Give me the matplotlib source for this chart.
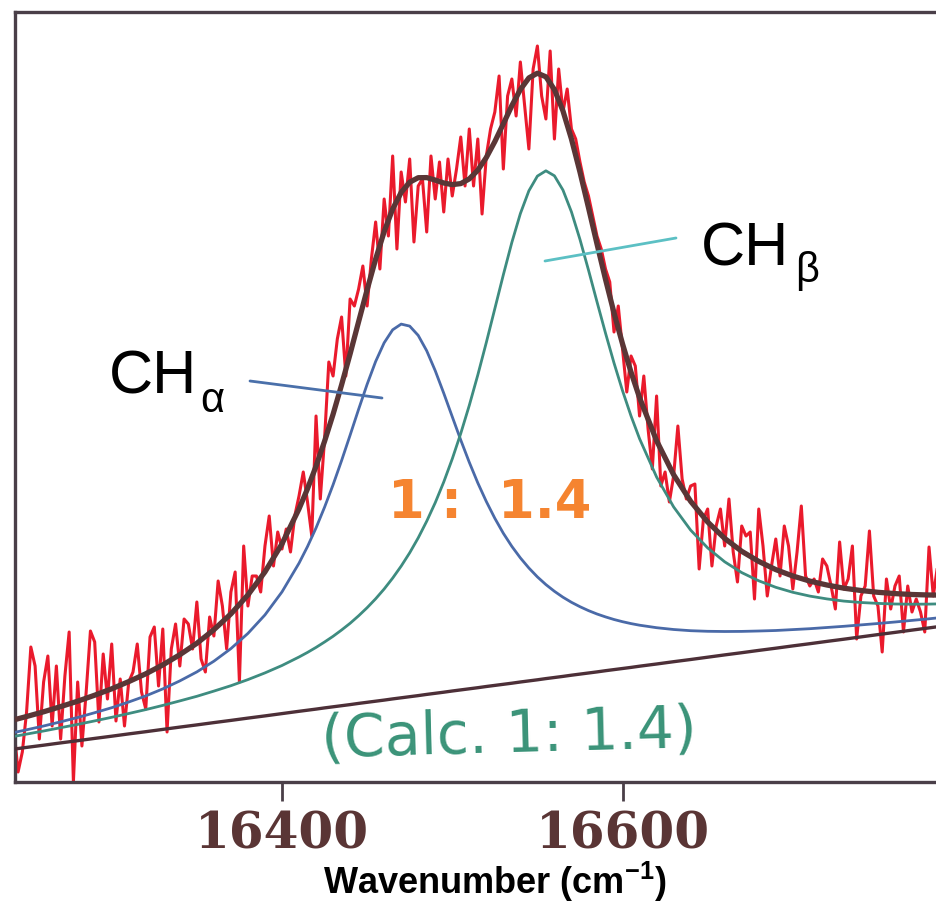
import numpy as np
import matplotlib
matplotlib.use('Agg')
import matplotlib.pyplot as plt

# ---------------- data ----------------
# wavenumber grid of the fit curves (cm-1): finer sampling around the two peaks
fit_x = np.concatenate([np.arange(16240, 16411, 10),
                        np.arange(16415, 16606, 5),
                        np.arange(16610, 16791, 10)])
baseline = [0.323, 0.346, 0.368, 0.391, 0.413, 0.436, 0.458, 0.481, 0.503, 0.526,
            0.549, 0.571, 0.594, 0.616, 0.639, 0.661, 0.684, 0.707,
            0.718, 0.729, 0.741, 0.752, 0.763, 0.774, 0.786, 0.797, 0.808, 0.819,
            0.831, 0.842, 0.853, 0.864, 0.876, 0.887, 0.898, 0.910, 0.921, 0.932,
            0.943, 0.955, 0.966, 0.977, 0.988, 1.000, 1.011, 1.022, 1.034, 1.045,
            1.056, 1.068, 1.079, 1.090, 1.101, 1.113, 1.124, 1.135, 1.146,
            1.158, 1.180, 1.203, 1.225, 1.248, 1.271, 1.293, 1.316, 1.338, 1.361,
            1.383, 1.406, 1.428, 1.451, 1.474, 1.496, 1.519, 1.541, 1.564]
ch_alpha = [0.162, 0.176, 0.192, 0.211, 0.232, 0.257, 0.285, 0.319, 0.358, 0.405,
            0.462, 0.530, 0.614, 0.718, 0.847, 1.010, 1.217, 1.481,
            1.637, 1.812, 2.007, 2.220, 2.451, 2.694, 2.941, 3.180, 3.397, 3.573,
            3.691, 3.737, 3.706, 3.602, 3.436, 3.226, 2.990, 2.743, 2.498, 2.265,
            2.048, 1.850, 1.671, 1.510, 1.368, 1.241, 1.129, 1.029, 0.940, 0.862,
            0.792, 0.729, 0.674, 0.624, 0.579, 0.538, 0.501, 0.468, 0.438,
            0.410, 0.363, 0.322, 0.288, 0.259, 0.234, 0.213, 0.194, 0.177, 0.163,
            0.150, 0.139, 0.129, 0.120, 0.111, 0.104, 0.097, 0.091, 0.086]
ch_beta = [0.125, 0.133, 0.142, 0.152, 0.163, 0.175, 0.189, 0.204, 0.221, 0.240,
           0.262, 0.286, 0.315, 0.347, 0.385, 0.430, 0.481, 0.543,
           0.578, 0.617, 0.659, 0.705, 0.757, 0.813, 0.876, 0.946, 1.024, 1.111,
           1.208, 1.317, 1.439, 1.577, 1.732, 1.906, 2.102, 2.321, 2.565, 2.834,
           3.127, 3.440, 3.767, 4.095, 4.408, 4.684, 4.901, 5.037, 5.078, 5.017,
           4.864, 4.633, 4.347, 4.030, 3.701, 3.376, 3.066, 2.778, 2.514,
           2.275, 1.870, 1.548, 1.294, 1.093, 0.931, 0.801, 0.696, 0.609, 0.536,
           0.476, 0.425, 0.381, 0.344, 0.312, 0.284, 0.259, 0.238, 0.219]

spec_x = np.arange(16240, 16790.1, 2.5)      # measured spectrum grid (cm-1)
spectrum = [0.35, 0.55, 0.10, 0.30, 0.70, 1.35, 1.16, 0.43, 1.00, 1.26,
            0.56, 1.16, 0.43, 1.06, 1.50, 0.00, 1.00, 0.36, 0.90, 1.51,
            1.40, 0.60, 1.28, 0.83, 1.38, 0.61, 1.03, 0.56, 1.00, 1.10,
            1.38, 0.90, 0.73, 1.45, 1.55, 0.96, 1.53, 0.50, 1.33, 1.58,
            1.16, 1.63, 1.58, 1.33, 1.80, 1.23, 1.10, 1.65, 1.46, 2.01,
            1.76, 1.33, 1.90, 2.10, 1.00, 2.36, 1.76, 2.06, 2.06, 1.90,
            2.36, 2.66, 2.16, 2.50, 2.33, 2.53, 2.30, 2.66, 2.86, 3.10,
            2.80, 2.46, 3.66, 2.83, 3.43, 4.20, 4.06, 4.43, 4.65, 4.06,
            4.83, 4.76, 4.93, 5.16, 4.76, 5.23, 5.60, 5.13, 5.83, 5.46,
            6.26, 5.33, 6.10, 5.80, 6.23, 5.40, 5.96, 6.03, 5.50, 6.26,
            5.83, 6.20, 5.70, 6.23, 5.86, 6.13, 6.45, 5.96, 6.53, 5.96,
            6.43, 5.68, 6.26, 6.53, 6.70, 7.06, 6.13, 6.86, 7.03, 6.66,
            7.20, 6.76, 6.33, 7.13, 7.36, 6.86, 6.63, 7.31, 6.43, 7.13,
            6.70, 6.93, 6.53, 6.43, 6.20, 6.00, 5.86, 5.66, 5.46, 5.33,
            5.13, 5.00, 4.50, 4.76, 4.33, 3.90, 4.26, 4.16, 3.66, 4.06,
            3.53, 3.13, 3.86, 2.96, 3.10, 2.80, 3.06, 3.56, 3.03, 2.83,
            2.96, 2.98, 2.13, 2.63, 2.73, 2.16, 2.56, 2.73, 2.36, 2.83,
            2.30, 2.00, 2.56, 2.46, 2.50, 1.83, 2.73, 2.36, 1.86, 2.16,
            2.43, 2.06, 2.56, 2.36, 1.93, 2.30, 2.76, 2.06, 1.96, 2.03,
            1.90, 2.23, 2.16, 1.96, 1.73, 2.40, 1.93, 2.03, 2.36, 1.43,
            1.86, 1.96, 2.51, 1.86, 1.76, 1.30, 2.03, 1.73, 1.96, 2.06,
            1.50, 1.96, 1.70, 1.83, 1.70, 1.50, 2.35, 1.86, 2.16, 1.80, 2.00]

xticks = [16400, 16600]
xtick_labels = ['16400', '16600']
x_label = 'Wavenumber (cm$^{\\mathbf{-1}}$)'

# ---------------- figure ----------------
plt.rcParams['mathtext.fontset'] = 'custom'
plt.rcParams['mathtext.rm'] = 'Liberation Sans'
plt.rcParams['mathtext.bf'] = 'Liberation Sans:bold'

W, H = 936, 904
fig = plt.figure(figsize=(W / 100, H / 100), dpi=100)
ax = fig.add_axes([15 / W, 1 - 783 / H, (W - 15) / W, 770 / H])
ax.set_xlim(16243.2, 16784.1)
ax.set_ylim(0, 7.70)

base = np.array(baseline)
alpha_curve = base + np.array(ch_alpha)
beta_curve = base + np.array(ch_beta)
total_curve = base + np.array(ch_alpha) + np.array(ch_beta)

ax.plot(spec_x, spectrum, color='#ea1a2c', lw=2.2, zorder=2)
ax.plot(fit_x, alpha_curve, color='#4a6aa8', lw=2.0, zorder=3)
ax.plot(fit_x, beta_curve, color='#3e8c80', lw=2.0, zorder=3)
ax.plot(fit_x, base, color='#4d3038', lw=2.4, zorder=4)
ax.plot(fit_x, total_curve, color='#5a3636', lw=3.8, zorder=5)

frame_col = '#4a3f48'
for side in ['left', 'top', 'bottom']:
    ax.spines[side].set_color(frame_col)
    ax.spines[side].set_linewidth(2.4)
ax.spines['right'].set_visible(False)

ax.set_yticks([])
ax.set_xticks(xticks)
ax.set_xticklabels(xtick_labels, fontfamily='DejaVu Serif', fontweight='bold')
ax.tick_params(axis='x', direction='out', length=14, width=2.0, color=frame_col,
               pad=6, labelsize=36, labelcolor='#5a3535')


def fx(px):
    return px / W


def fy(py):
    return 1 - py / H


fig.text(fx(495), fy(894), x_label, ha='center', va='baseline',
         fontsize=26, fontweight='bold', family='Liberation Sans', color='black')

# peak labels
fig.text(fx(109), fy(393), 'CH', ha='left', va='baseline', fontsize=44,
         family='Liberation Sans', color='black')
fig.text(fx(200), fy(412), '\u03b1', ha='left', va='baseline', fontsize=30,
         family='Liberation Sans', color='black')
fig.text(fx(701), fy(266), 'CH', ha='left', va='baseline', fontsize=44,
         family='Liberation Sans', color='black')
fig.text(fx(795), fy(282), '\u03b2', ha='left', va='baseline', fontsize=30,
         family='Liberation Sans', color='black')

# pointer lines
ax.annotate('', xy=((382 - 15) / 921, (783 - 399) / 770), xycoords='axes fraction',
            xytext=((250 - 15) / 921, (783 - 382) / 770), textcoords='axes fraction',
            arrowprops=dict(arrowstyle='-', color='#4a70aa', lw=2.0, shrinkA=0, shrinkB=0),
            zorder=6)
ax.annotate('', xy=((676 - 15) / 921, (783 - 239) / 770), xycoords='axes fraction',
            xytext=((545 - 15) / 921, (783 - 262) / 770), textcoords='axes fraction',
            arrowprops=dict(arrowstyle='-', color='#5cc0c4', lw=2.0, shrinkA=0, shrinkB=0),
            zorder=6)

# hand-written ratios
orange = '#f58430'
fig.text(fx(406), fy(518), '1', ha='center', va='baseline', fontsize=38,
         fontweight='bold', family='DejaVu Sans', color=orange)
fig.text(fx(451), fy(518), ':', ha='center', va='baseline', fontsize=38,
         fontweight='bold', family='DejaVu Sans', color=orange)
fig.text(fx(545), fy(518), '1.4', ha='center', va='baseline', fontsize=38,
         fontweight='bold', family='DejaVu Sans', color=orange)
fig.text(fx(509), fy(735), '(Calc. 1: 1.4)', ha='center', va='center', fontsize=42,
         family='DejaVu Sans', color='#3a9378', rotation=1.5)

fig.savefig('out.png', dpi=100)
